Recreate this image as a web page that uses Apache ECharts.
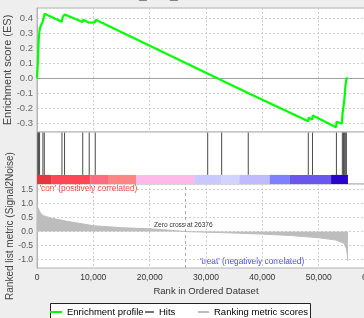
<!DOCTYPE html>
<html lang="en">
<head>
<meta charset="UTF-8">
<title>Enrichment plot</title>
<script src="https://cdn.jsdelivr.net/npm/echarts@6/dist/echarts.min.js"></script>
<style>
    html, body { margin: 0; padding: 0; background: #eeeeee; }
    #main { width: 364px; height: 318px; }
</style>
</head>
<body>
<div id="main"></div>
<script>
// running enrichment score, vertices
var esRank  = [0, 140, 230, 320, 500, 850, 1030, 1350, 4400, 4570, 4930, 8090, 8210, 9190, 9310, 10250, 10430,
               37360, 37560, 48160, 48210, 48870, 48940, 53070, 53190, 54130, 54220, 54400, 54570, 54750, 54930, 55200];
var esScore = [0, 0.10, 0.19, 0.27, 0.335, 0.33, 0.38, 0.43, 0.378, 0.41, 0.425, 0.375, 0.39, 0.372, 0.385, 0.373, 0.39,
               -0.097, -0.088, -0.287, -0.262, -0.275, -0.248, -0.327, -0.29, -0.303, -0.24, -0.19, -0.135, -0.05, 0.0, 0.0];

// positions of gene set members in the ranked list
var hitRank = [150, 230, 330, 460, 1050, 1290, 4430, 4890, 8120, 9270, 10340, 30300, 32780, 37500,
               48160, 48900, 53150, 54200, 54400, 54560, 54730, 54920];

// ranked list metric
var metricRank  = [0, 150, 600, 1150, 2400, 5300, 10000, 15000, 20000, 23000, 26376, 30000, 35000, 40000,
                   45000, 50000, 53000, 54500, 54900, 55100, 55200];
var metricValue = [0.97, 0.86, 0.66, 0.57, 0.49, 0.37, 0.21, 0.14, 0.10, 0.06, 0.0, -0.02, -0.05, -0.09,
                   -0.14, -0.22, -0.30, -0.42, -0.6, -0.85, -1.05];

// colour band edges (rank)
var bandEdge = [0, 2500, 9500, 12600, 17600, 27900, 32700, 35900, 41300, 44900, 52200, 55200];
var zeroCross = 26376;

var bandColor = ['#e5353f', '#ff4656', '#ff6c80', '#ff8484', '#ffb8ea', '#c9c9ff', '#d3d3ff',
                 '#c0baff', '#8080ff', '#6957ee', '#2b04cc'];
var FONT = 'Liberation Sans, Arial, sans-serif';

var myChart = echarts.init(document.getElementById('main'));

var esData = esRank.map(function (r, i) { return [r, esScore[i]]; });
var metricData = metricRank.map(function (r, i) { return [r, metricValue[i]]; });
var hitData = hitRank.map(function (r) { return [r, 0]; });
var bandData = [];
for (var i = 0; i < bandEdge.length - 1; i++) {
    bandData.push([bandEdge[i], bandEdge[i + 1], i]);
}

function oneDecimal(step) {
    return function (v) {
        var k = v / step;
        if (Math.abs(k - Math.round(k)) > 1e-6) return '';
        return (Math.round(k) * step).toFixed(1);
    };
}

var dashed = { show: true, lineStyle: { color: '#d0d0d0', type: [2, 2], width: 1 } };
var gridBase = { left: 37, width: 338, containLabel: false, outerBoundsMode: 'none',
                 show: true, backgroundColor: '#ffffff', borderColor: '#b5b5b5', borderWidth: 1 };

option = {
    animation: false,
    backgroundColor: '#eeeeee',
    textStyle: { fontFamily: FONT },
    grid: [
        Object.assign({ top: 8, height: 124 }, gridBase),
        Object.assign({ top: 132, height: 52 }, gridBase),
        Object.assign({ top: 184, height: 84 }, gridBase)
    ],
    xAxis: [
        { gridIndex: 0, type: 'value', min: 0, max: 60000, interval: 10000,
          axisLine: { show: false }, axisTick: { show: false }, axisLabel: { show: false }, splitLine: dashed },
        { gridIndex: 1, type: 'value', min: 0, max: 60000, interval: 10000, show: false, splitLine: { show: false } },
        { gridIndex: 2, type: 'value', min: 0, max: 60000, interval: 10000,
          axisLine: { show: false }, axisTick: { show: false }, splitLine: dashed,
          axisLabel: { fontSize: 8.5, color: '#333', margin: 5,
                       formatter: function (v) { return v.toLocaleString('en-US'); } },
          name: 'Rank in Ordered Dataset', nameLocation: 'middle', nameGap: 18, nameMoveOverlap: false,
          nameTextStyle: { fontSize: 9.5, color: '#333' } }
    ],
    yAxis: [
        { gridIndex: 0, type: 'value', min: -0.358, max: 0.469, splitNumber: 8,
          axisLine: { show: true, lineStyle: { color: '#b5b5b5' } }, axisTick: { show: false },
          axisLabel: { fontSize: 9.5, color: '#666', margin: 4, formatter: oneDecimal(0.1) },
          splitLine: dashed,
          name: 'Enrichment score (ES)', nameLocation: 'middle', nameGap: 24, nameMoveOverlap: false,
          nameTextStyle: { fontSize: 11, color: '#444' } },
        { gridIndex: 1, type: 'value', min: 0, max: 1, show: false, splitLine: { show: false } },
        { gridIndex: 2, type: 'value', min: -1.3, max: 1.7, splitNumber: 6,
          axisLine: { show: true, lineStyle: { color: '#b5b5b5' } }, axisTick: { show: false },
          axisLabel: { fontSize: 8.5, color: '#555', margin: 4, formatter: oneDecimal(0.5) },
          splitLine: dashed,
          name: 'Ranked list metric (Signal2Noise)', nameLocation: 'middle', nameGap: 22, nameMoveOverlap: false,
          nameTextStyle: { fontSize: 10, color: '#444' } }
    ],
    legend: [
        { data: ['Enrichment profile'], left: 50, top: 307, padding: 0, icon: 'rect', itemWidth: 12, itemHeight: 2,
          textStyle: { fontSize: 9.5, color: '#000' } },
        { data: ['Hits'], left: 145, top: 307, padding: 0, icon: 'rect', itemWidth: 9, itemHeight: 2,
          textStyle: { fontSize: 9.5, color: '#000' } },
        { data: ['Ranking metric scores'], left: 198, top: 307, padding: 0, icon: 'rect', itemWidth: 11, itemHeight: 2,
          textStyle: { fontSize: 9.5, color: '#000' } }
    ],
    graphic: [
        { type: 'rect', z: -1, shape: { x: 50.5, y: 303.5, width: 260, height: 22 },
          style: { fill: '#ffffff', stroke: '#222', lineWidth: 1 } },
        { type: 'text', x: 139, y: 2, style: { text: '_      _', font: 'bold 14px ' + FONT, fill: '#333',
          verticalAlign: 'bottom' } },
        { type: 'text', x: 39.5, y: 188.5, style: { text: "'con' (positively correlated)", font: '8.3px ' + FONT,
          fill: '#f23a3a', verticalAlign: 'middle' } },
        { type: 'text', x: 200, y: 262, style: { text: "'treat' (negatively correlated)", font: '8.3px ' + FONT,
          fill: '#4a4af5', verticalAlign: 'middle' } },
        { type: 'text', x: 154, y: 225.5, style: { text: 'Zero cross at ' + zeroCross, font: '6.6px ' + FONT,
          fill: '#333', verticalAlign: 'middle' } }
    ],
    series: [
        {
            name: 'Ranking metric scores', type: 'line', xAxisIndex: 2, yAxisIndex: 2,
            data: metricData, showSymbol: false, symbol: 'none',
            itemStyle: { color: '#bdbdbd' },
            lineStyle: { color: '#bdbdbd', width: 1 },
            areaStyle: { color: '#bdbdbd', opacity: 1 },
            markLine: { silent: true, symbol: ['none', 'none'], label: { show: false },
                        lineStyle: { color: '#aaaaaa', type: [3, 3], width: 1 },
                        data: [{ xAxis: zeroCross }] }
        },
        {
            name: 'Hits', type: 'custom', xAxisIndex: 1, yAxisIndex: 1,
            itemStyle: { color: '#777777' },
            data: hitData,
            renderItem: function (params, api) {
                var x = api.coord([api.value(0), 0])[0];
                var yTop = api.coord([0, 0.99])[1];
                var yBot = api.coord([0, 0.175])[1];
                return { type: 'line', shape: { x1: x, y1: yTop, x2: x, y2: yBot },
                         style: { stroke: '#4a4a4a', lineWidth: 1 } };
            }
        },
        {
            name: 'band', type: 'custom', xAxisIndex: 1, yAxisIndex: 1,
            data: bandData, encode: { x: [0, 1] },
            renderItem: function (params, api) {
                var p0 = api.coord([api.value(0), 0.175]);
                var p1 = api.coord([api.value(1), 0]);
                return { type: 'rect', shape: { x: p0[0], y: p0[1], width: p1[0] - p0[0], height: p1[1] - p0[1] },
                         style: { fill: bandColor[api.value(2)] } };
            }
        },
        {
            name: 'Enrichment profile', type: 'line', xAxisIndex: 0, yAxisIndex: 0,
            data: esData, showSymbol: false, symbol: 'none', z: 5,
            itemStyle: { color: '#00ff00' },
            lineStyle: { color: '#00ff00', width: 2.2 },
            markLine: { silent: true, symbol: ['none', 'none'], label: { show: false },
                        lineStyle: { color: '#a0a0a0', type: 'solid', width: 1.2 },
                        data: [{ yAxis: 0 }] }
        }
    ]
};

myChart.setOption(option);
</script>
</body>
</html>
